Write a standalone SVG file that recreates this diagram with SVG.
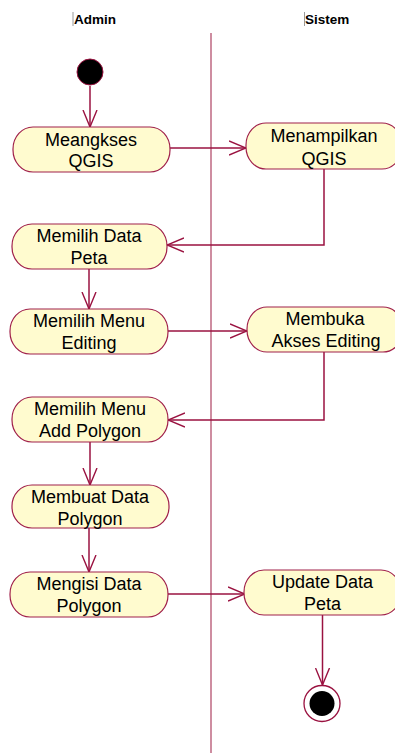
<svg xmlns="http://www.w3.org/2000/svg" width="395" height="753" viewBox="0 0 395 753">
<style>
.node rect{fill:#FFFBCF;stroke:#A0204A;stroke-width:1.2}
.node text{font-family:"Liberation Sans",Arial,sans-serif;font-size:18px;fill:#000;text-anchor:middle}
.hdr{font-family:"Liberation Sans",Arial,sans-serif;font-size:13.5px;font-weight:bold;fill:#000}
.conn path{fill:none;stroke:#9A1240;stroke-width:1.5;marker-end:url(#arr)}
.tick{stroke:#999;stroke-width:1}
</style>
<defs>
<marker id="arr" viewBox="0 -8 18 16" refX="17" refY="0" markerWidth="18" markerHeight="16" markerUnits="userSpaceOnUse" orient="auto">
<path d="M0,-7 L17,0 L0,7" fill="none" stroke="#9A1240" stroke-width="1.4"/>
</marker>
</defs>
<rect width="395" height="753" fill="#fff"/>
<g id="lanes">
<line class="tick" x1="73" y1="12" x2="73" y2="26"/>
<text class="hdr" x="74" y="24">Admin</text>
<line class="tick" x1="304.5" y1="12" x2="304.5" y2="26"/>
<text class="hdr" x="305" y="24">Sistem</text>
<line x1="211" y1="33" x2="211" y2="753" stroke="#B4506E" stroke-width="1.3"/>
</g>
<g class="conn" id="connectors">
<path d="M90,86 L90,127"/>
<path d="M170,148 L246,148"/>
<path d="M324,169 L324,245 L167,245"/>
<path d="M89,269 L89,309"/>
<path d="M168,331 L247,331"/>
<path d="M324,352 L324,420 L168,420"/>
<path d="M90,442 L90,485"/>
<path d="M89,528 L89,572"/>
<path d="M168,594 L245,594"/>
<path d="M322.5,615 L322.5,685"/>
</g>
<g id="start"><circle cx="90" cy="72" r="13" fill="#000" stroke="#9A1240" stroke-width="1"/></g>
<g id="end"><circle cx="322" cy="703.5" r="18" fill="#fff" stroke="#9A1240" stroke-width="1.3"/><circle cx="322" cy="703.5" r="12.5" fill="#000"/></g>
<g class="node" id="n1"><rect x="13" y="127" width="157" height="45" rx="20" ry="22"/><text x="91" y="146">Meangkses</text><text x="91" y="167">QGIS</text></g>
<g class="node" id="n2"><rect x="246" y="123" width="156" height="46" rx="20" ry="22"/><text x="324" y="142">Menampilkan</text><text x="324" y="165">QGIS</text></g>
<g class="node" id="n3"><rect x="12" y="224" width="155" height="45" rx="20" ry="22"/><text x="89" y="242">Memilih Data</text><text x="89" y="264">Peta</text></g>
<g class="node" id="n4"><rect x="10" y="309" width="158" height="45" rx="20" ry="22"/><text x="89" y="327">Memilih Menu</text><text x="89" y="349">Editing</text></g>
<g class="node" id="n5"><rect x="247" y="307" width="156" height="45" rx="20" ry="22"/><text x="325" y="325">Membuka</text><text x="326" y="347">Akses Editing</text></g>
<g class="node" id="n6"><rect x="12" y="397" width="156" height="45" rx="20" ry="22"/><text x="90" y="415">Memilih Menu</text><text x="90" y="437">Add Polygon</text></g>
<g class="node" id="n7"><rect x="12" y="485" width="157" height="43" rx="20" ry="21"/><text x="90" y="503">Membuat Data</text><text x="90" y="525">Polygon</text></g>
<g class="node" id="n8"><rect x="10" y="572" width="158" height="45" rx="20" ry="22"/><text x="89" y="590">Mengisi Data</text><text x="89" y="612">Polygon</text></g>
<g class="node" id="n9"><rect x="244" y="570" width="157" height="45" rx="20" ry="22"/><text x="322.5" y="588">Update Data</text><text x="322.5" y="610">Peta</text></g>
</svg>
